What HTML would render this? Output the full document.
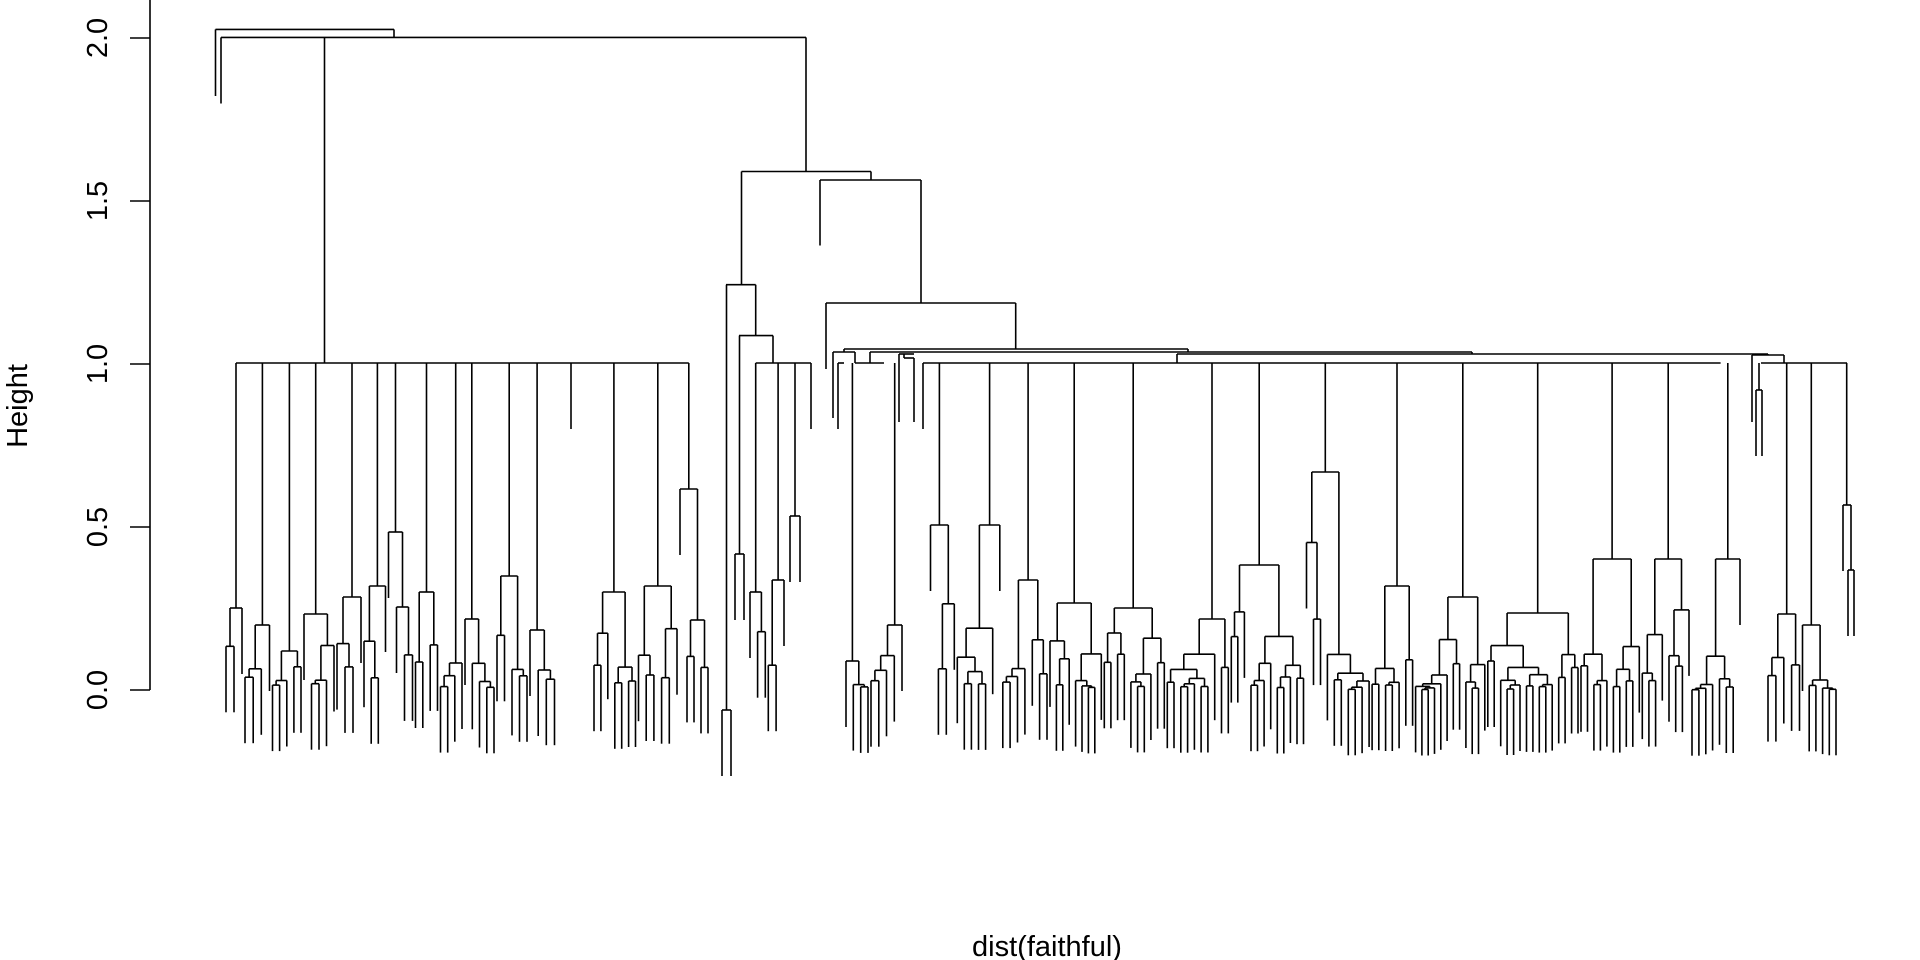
<!DOCTYPE html>
<html><head><meta charset="utf-8"><style>
html,body{margin:0;padding:0;background:#fff;}
svg{display:block;}
text{font-family:"Liberation Sans",Arial,sans-serif;fill:#000;}
</style></head><body>
<svg id="s" width="1920" height="960" viewBox="0 0 1920 960" xmlns="http://www.w3.org/2000/svg">
<g id="ax" stroke="#000" stroke-width="1.6" fill="none">
<line x1="150" y1="0" x2="150" y2="690"/>
<line x1="130" y1="690" x2="150" y2="690"/>
<line x1="130" y1="527" x2="150" y2="527"/>
<line x1="130" y1="364" x2="150" y2="364"/>
<line x1="130" y1="201" x2="150" y2="201"/>
<line x1="130" y1="38" x2="150" y2="38"/>
</g>
<g font-size="29" text-anchor="middle">
<text transform="translate(107,690) rotate(-90)">0.0</text>
<text transform="translate(107,527) rotate(-90)">0.5</text>
<text transform="translate(107,364) rotate(-90)">1.0</text>
<text transform="translate(107,201) rotate(-90)">1.5</text>
<text transform="translate(107,38) rotate(-90)">2.0</text>
<text transform="translate(27,406) rotate(-90)">Height</text>
<text x="1047" y="956">dist(faithful)</text>
</g>
<g id="d" stroke="#000" stroke-width="1.6" fill="none"></g>
</svg>
<script>
var g=document.getElementById('d'),out='';
function L(x1,y1,x2,y2){out+='<line x1="'+x1.toFixed(1)+'" y1="'+y1.toFixed(1)+'" x2="'+x2.toFixed(1)+'" y2="'+y2.toFixed(1)+'"/>';}
var seed=12345;function R(){seed=(seed*1103515245+12345)%2147483648;return seed/2147483648;}
var HANG=66,BASE=690;
function build(pos,i0,i1,h){
  if(i1-i0==1){var x=pos[i0];L(x,h,x,h+HANG);return x;}
  var k=i0+1+Math.floor(R()*(i1-i0-1));
  var xs=[];
  [[i0,k],[k,i1]].forEach(function(r){
    if(r[1]-r[0]==1){var x=pos[r[0]];L(x,h,x,h+HANG);xs.push(x);}
    else{var hc=h+(BASE-h)*(0.3+R()*0.55);var x=build(pos,r[0],r[1],hc);L(x,h,x,hc);xs.push(x);}
  });
  L(xs[0],h,xs[1],h);
  return (xs[0]+xs[1])/2;
}
function sub(xL,xR,top){
  var n=Math.max(1,Math.round((xR-xL)/6.0));
  var pos=[];for(var i=0;i<n;i++)pos.push(n==1?(xL+xR)/2:xL+(xR-xL)*i/(n-1));
  if(n==1)return {x:pos[0],leaf:true};
  return {x:build(pos,0,n,top),leaf:false};
}
function group(stems,yb,lo,hi){
  var xs=[];
  for(var i=0;i<stems.length;i++){
    var s=stems[i];
    var a=i==0?lo:(stems[i-1][0]+s[0])/2+1.5;
    var b=i==stems.length-1?hi:(s[0]+stems[i+1][0])/2-1.5;
    if(s[2]){a=s[0]-s[2];b=s[0]+s[2];}
    if(s[1]==null){L(s[0],yb,s[0],yb+HANG);xs.push(s[0]);continue;}
    var r=sub(a,b,s[1]);
    if(r.leaf){L(r.x,yb,r.x,yb+HANG);xs.push(r.x);}
    else{L(r.x,yb,r.x,s[1]);xs.push(r.x);}
  }
  return xs;
}
L(215.5,29.4,394,29.4);L(215.5,29.4,215.5,96);L(394,29.4,394,37.4);
L(221,37.4,806,37.4);L(221,37.4,221,103.5);
L(324.5,37.4,324.5,363);
L(806,37.4,806,171.5);L(741.5,171.5,871,171.5);
L(871,171.5,871,180);L(820,180,921,180);L(820,180,820,245.5);
L(921,180,921,303);L(826,303,1015.7,303);L(826,303,826,369);
L(1015.7,303,1015.7,349);
L(741.5,171.5,741.5,284.7);L(726,284.7,755.7,284.7);
L(755.7,284.7,755.7,335.6);L(739,335.6,773,335.6);
L(773,335.6,773,363);
var left=[[232,608],[255,625],[287,651],[318,614],[353,597],[372,586],[402,532],[426,592],[452,663],[475,619],[516,576],[541,630],[571,429,4],[614,592],[660,586],[697,489]];
var xs=group(left,363,226,708);
L(Math.min.apply(null,xs),363,Math.max.apply(null,xs),363);
var c1=sub(722,731,710);L(c1.x,284.7,c1.x,710);
var c2=sub(735,744,554);L(c2.x,335.6,c2.x,554);
var mid=[[757.5,592],[776,580],[795,516,5],[811,472,4]];
xs=group(mid,363,750,816);
L(Math.min.apply(null,xs),363,Math.max.apply(null,xs),363);
var right=[[855,661],[884,625],[923,null],[935,525],[976.5,525],[1026,580],[1071,603],[1134.5,608],[1197,619],[1262.5,565],[1347.6,472],[1393.6,586],[1434.6,597],[1538,613],[1621,559],[1660.5,559],[1720.6,559]];
xs=group(right,363,846,1740);
L(855,363,884,363);L(923,363,1720.6,363);
L(844,349,1188,349);L(844,349,844,352);L(833,352,855,352);L(833,352,833,418);L(855,352,855,363);
L(838,363,844,363);L(838,363,838,429);
L(1188,349,1188,352);L(870,352,1472,352);L(870,352,870,363);
L(899,354,914,354);L(899,354,899,422);L(904,354,904,358);L(904,358,914,358);L(914,358,914,422);
L(1472,352,1472,354);L(1177,354,1768,354);L(1177,354,1177,363);
L(1768,354,1768,355);L(1752,355,1784,355);L(1752,355,1752,422);L(1784,355,1784,363);
L(1761,363,1847,363);
L(1759,363,1759,390);L(1756,390,1762,390);L(1756,390,1756,456);L(1762,390,1762,456);
var rr=[[1782,614],[1820,625]];
group(rr,363,1768,1836);
L(1846.7,363,1846.7,505);L(1843,505,1851,505);L(1843,505,1843,571);L(1851,505,1851,570);L(1848,570,1854,570);L(1848,570,1848,636);L(1854,570,1854,636);
g.innerHTML=out;
</script>
</body></html>
